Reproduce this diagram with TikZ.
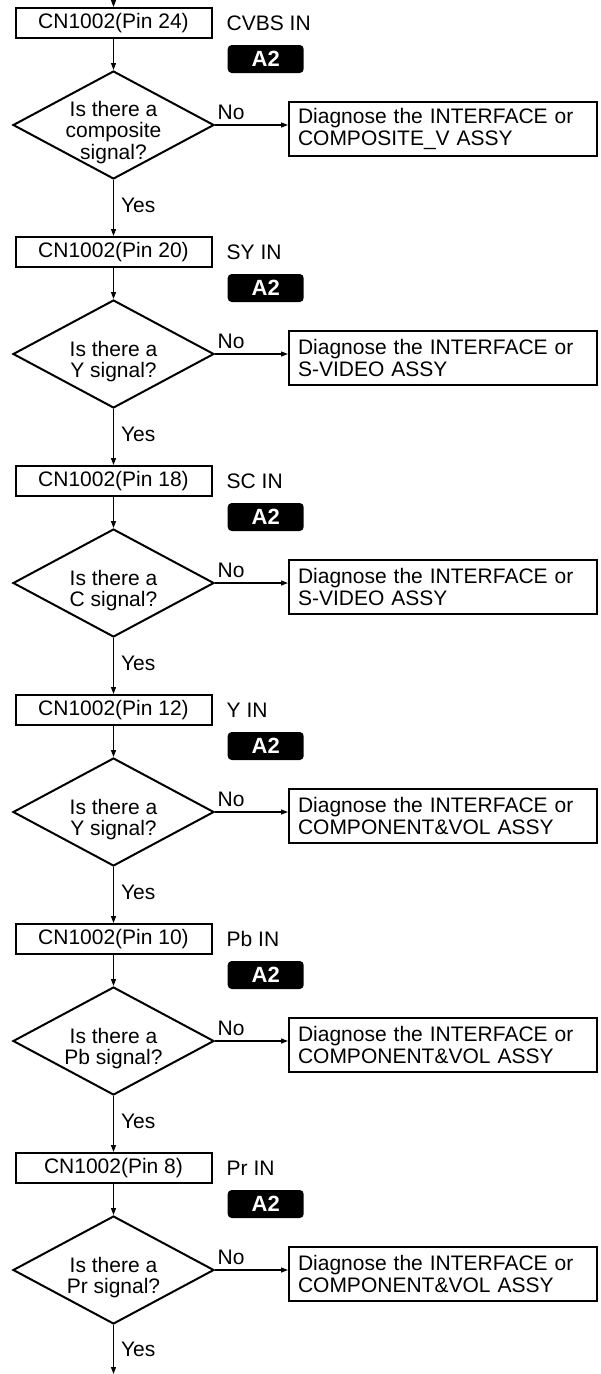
\documentclass[tikz,border=0pt]{standalone}
\usepackage{fontspec}
\setmainfont{Liberation Sans}
\usetikzlibrary{arrows.meta,positioning,shapes.geometric}
\newcommand{\asklift}{\rule{0pt}{30pt}}
\tikzset{
  pinbox/.style={draw, line width=2pt, minimum width=196pt, minimum height=30pt, inner sep=0pt},
  askbox/.style={diamond, draw, line width=2pt, shape aspect=1.86, minimum width=201pt, minimum height=108pt, inner sep=-8pt, align=center},
  fixbox/.style={draw, line width=2pt, text width=290pt, inner xsep=9pt, minimum height=54pt, align=left},
  tagbox/.style={fill=black, text=white, rounded corners=4pt, minimum width=76pt, minimum height=28pt, inner sep=0pt, font=\fontsize{22}{22}\selectfont\bfseries},
  siglabel/.style={inner sep=0pt, anchor=west},
  arrow/.style={-{Triangle[length=7pt, width=5pt]}, line width=1.2pt},
  nolabel/.style={above right, inner xsep=2pt, inner ysep=5pt},
  yeslabel/.style={right, inner sep=7pt, pos=0.45}
}
\begin{document}
\begin{tikzpicture}[x=1pt, y=-1pt, node distance=31pt, font=\fontsize{21}{21.5}\selectfont]
    \useasboundingbox (0,0) rectangle (600,1374);
    \coordinate (entry) at (113.5,0);
    \coordinate (exit) at (113.5,1374);

    % CVBS
    \node[pinbox] (pin24) at (113.5,23) {CN1002(Pin 24)};
    \node[siglabel, right=14pt of pin24] (sig24) {CVBS IN};
    \node[tagbox, right=15pt of pin24, yshift=-36pt] (tag24) {A2};
    \node[askbox, below=of pin24] (q24) {\asklift Is there a\\composite\\signal?};
    \node[fixbox, right=73pt of q24, yshift=-4pt] (fix24) {Diagnose the INTERFACE or\\COMPOSITE\_V ASSY};

    % SY
    \node[pinbox, below=56pt of q24] (pin20) {CN1002(Pin 20)};
    \node[siglabel, right=14pt of pin20] (sig20) {SY IN};
    \node[tagbox, right=15pt of pin20, yshift=-36pt] (tag20) {A2};
    \node[askbox, below=of pin20] (q20) {\asklift Is there a\\Y signal?};
    \node[fixbox, right=73pt of q20, yshift=-4pt] (fix20) {Diagnose the INTERFACE or\\S-VIDEO ASSY};

    % SC
    \node[pinbox, below=56pt of q20] (pin18) {CN1002(Pin 18)};
    \node[siglabel, right=14pt of pin18] (sig18) {SC IN};
    \node[tagbox, right=15pt of pin18, yshift=-36pt] (tag18) {A2};
    \node[askbox, below=of pin18] (q18) {\asklift Is there a\\C signal?};
    \node[fixbox, right=73pt of q18, yshift=-4pt] (fix18) {Diagnose the INTERFACE or\\S-VIDEO ASSY};

    % Y
    \node[pinbox, below=56pt of q18] (pin12) {CN1002(Pin 12)};
    \node[siglabel, right=14pt of pin12] (sig12) {Y IN};
    \node[tagbox, right=15pt of pin12, yshift=-36pt] (tag12) {A2};
    \node[askbox, below=of pin12] (q12) {\asklift Is there a\\Y signal?};
    \node[fixbox, right=73pt of q12, yshift=-4pt] (fix12) {Diagnose the INTERFACE or\\COMPONENT\&VOL ASSY};

    % Pb
    \node[pinbox, below=56pt of q12] (pin10) {CN1002(Pin 10)};
    \node[siglabel, right=14pt of pin10] (sig10) {Pb IN};
    \node[tagbox, right=15pt of pin10, yshift=-36pt] (tag10) {A2};
    \node[askbox, below=of pin10] (q10) {\asklift Is there a\\Pb signal?};
    \node[fixbox, right=73pt of q10, yshift=-4pt] (fix10) {Diagnose the INTERFACE or\\COMPONENT\&VOL ASSY};

    % Pr
    \node[pinbox, below=56pt of q10] (pin8) {CN1002(Pin 8)};
    \node[siglabel, right=14pt of pin8] (sig8) {Pr IN};
    \node[tagbox, right=15pt of pin8, yshift=-36pt] (tag8) {A2};
    \node[askbox, below=of pin8] (q8) {\asklift Is there a\\Pr signal?};
    \node[fixbox, right=73pt of q8, yshift=-4pt] (fix8) {Diagnose the INTERFACE or\\COMPONENT\&VOL ASSY};

    % connectors
    \draw[arrow] (entry) -- (pin24);
    \draw[arrow] (pin24) -- (q24);
    \draw[arrow] (q24.east) -- node[nolabel, pos=0] {No} (q24.east -| fix24.west);
    \draw[arrow] (q24) -- node[yeslabel] {Yes} (pin20);
    \draw[arrow] (pin20) -- (q20);
    \draw[arrow] (q20.east) -- node[nolabel, pos=0] {No} (q20.east -| fix20.west);
    \draw[arrow] (q20) -- node[yeslabel] {Yes} (pin18);
    \draw[arrow] (pin18) -- (q18);
    \draw[arrow] (q18.east) -- node[nolabel, pos=0] {No} (q18.east -| fix18.west);
    \draw[arrow] (q18) -- node[yeslabel] {Yes} (pin12);
    \draw[arrow] (pin12) -- (q12);
    \draw[arrow] (q12.east) -- node[nolabel, pos=0] {No} (q12.east -| fix12.west);
    \draw[arrow] (q12) -- node[yeslabel] {Yes} (pin10);
    \draw[arrow] (pin10) -- (q10);
    \draw[arrow] (q10.east) -- node[nolabel, pos=0] {No} (q10.east -| fix10.west);
    \draw[arrow] (q10) -- node[yeslabel] {Yes} (pin8);
    \draw[arrow] (pin8) -- (q8);
    \draw[arrow] (q8.east) -- node[nolabel, pos=0] {No} (q8.east -| fix8.west);
    \draw[arrow] (q8) -- node[yeslabel, pos=0.5] {Yes} (exit);
  \end{tikzpicture}
\end{document}
